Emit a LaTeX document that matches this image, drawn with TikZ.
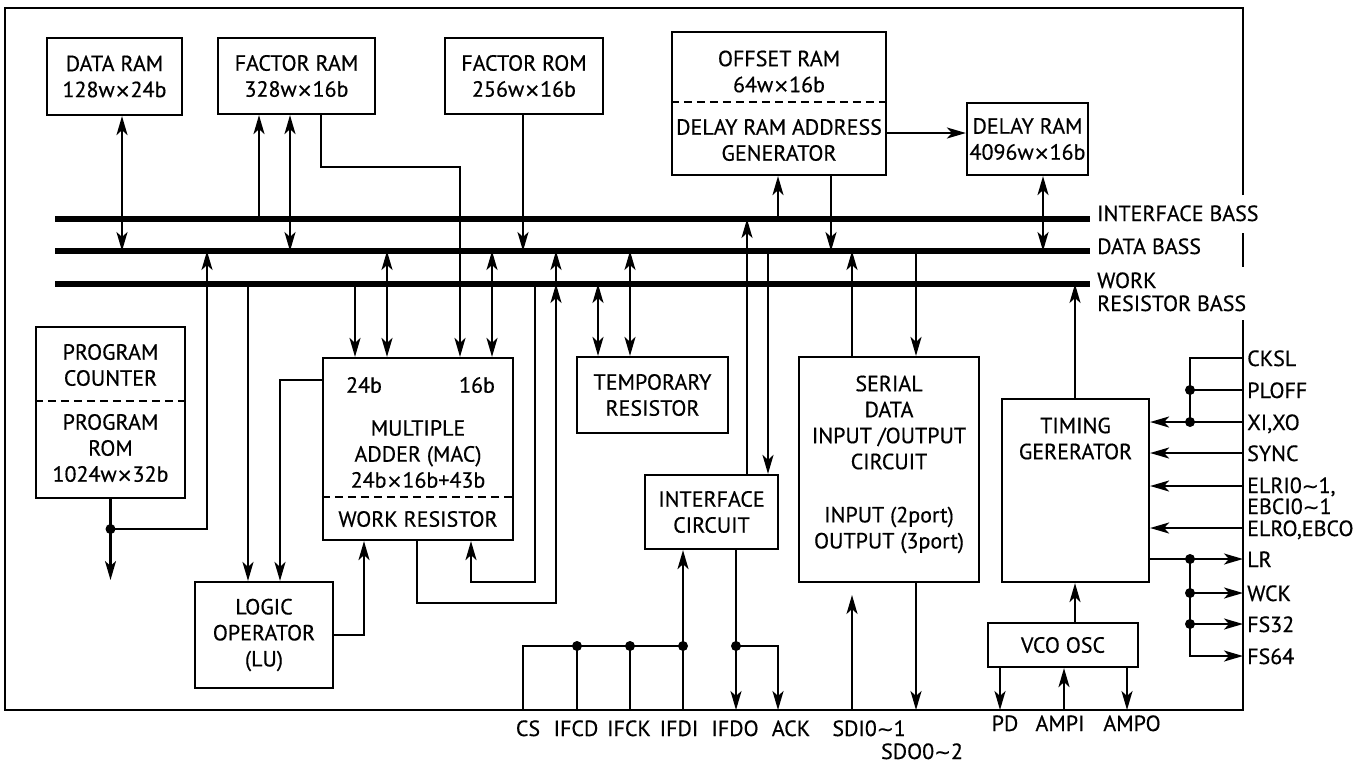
\documentclass[tikz,border=0pt]{standalone}
\usepackage{fontspec}
\setmainfont{PT Sans}[FakeBold=0.5]
\newfontfamily\dvfont{DejaVu Sans}[FakeBold=0.3]
\usetikzlibrary{arrows.meta}
\newcommand{\fs}{\fontsize{22}{26}\selectfont}
\newcommand{\wv}{{\dvfont\fontsize{20}{26}\selectfont ∼}}
\newcommand{\tm}{{\dvfont\fontsize{19}{26}\selectfont ×}}
\begin{document}
\begin{tikzpicture}[x=1pt,y=-1pt,
  box/.style={draw, line width=2.2pt, inner sep=0pt, align=center, font=\fs},
  lbl/.style={inner sep=0pt, align=center, font=\fs},
  pin/.style={inner sep=0pt, font=\fs, anchor=base west},
  pinb/.style={inner sep=0pt, font=\fs, anchor=base},
  ln/.style={line width=2.2pt},
  dsh/.style={line width=2.2pt, dash pattern=on 8pt off 5pt},
  bus/.style={line width=5.5pt},
  arr/.style={ln, -{Stealth[length=19pt,width=11pt,inset=5pt]}},
  darr/.style={ln, {Stealth[length=19pt,width=11pt,inset=5pt]}-{Stealth[length=19pt,width=11pt,inset=5pt]}},
  jdot/.style={circle, fill, inner sep=0pt, minimum size=10pt}]
\useasboundingbox (0,0) rectangle (1372,764);
\coordinate (ib) at (0,219);
\coordinate (db) at (0,251);
\coordinate (wb) at (0,284);
\coordinate (bb) at (0,710);
\coordinate (rb) at (1243,0);
% border
\draw[ln] (1243,195) -- (1243,8) -- (5,8) -- (5,710) -- (1243,710) -- (1243,320);
\draw[ln] (1243,233) -- (1243,267);
% buses
\draw[bus] (55,0 |- ib) -- (1090,0 |- ib);
\draw[bus] (55,0 |- db) -- (1090,0 |- db);
\draw[bus] (55,0 |- wb) -- (1090,0 |- wb);
\node[pin] (lib) at (1097,221) {INTERFACE BASS};
\node[pin] (ldb) at (1097,254) {DATA BASS};
\node[pin] (lwb1) at (1097,288) {WORK};
\node[pin] (lwb2) at (1097,311) {RESISTOR BASS};
% boxes
\node[box, minimum width=135pt, minimum height=77pt] (dram) at (114.5,76.5) {DATA RAM\\128w\tm24b};
\node[box, minimum width=157pt, minimum height=76pt] (fram) at (296.5,76) {FACTOR RAM\\328w\tm16b};
\node[box, minimum width=158pt, minimum height=76pt] (frm) at (524,76) {FACTOR ROM\\256w\tm16b};
\node[box, minimum width=214pt, minimum height=143pt] (off) at (779,103.5) {};
\draw[dsh] (off.west |- 0,102) -- (off.east |- 0,102);
\node[lbl] (offt) at (779,71.5) {OFFSET RAM\\64w\tm16b};
\node[lbl] (offb) at (779,140) {DELAY RAM ADDRESS\\GENERATOR};
\node[box, minimum width=121pt, minimum height=72pt] (dly) at (1027.5,139) {DELAY RAM\\4096w\tm16b};
\node[box, minimum width=149pt, minimum height=171pt] (prog) at (110.5,412.5) {};
\draw[dsh] (prog.west |- 0,401) -- (prog.east |- 0,401);
\node[lbl] (progt) at (110.5,365) {PROGRAM\\COUNTER};
\node[lbl] (progb) at (110.5,448) {PROGRAM\\ROM\\1024w\tm32b};
\node[box, minimum width=190pt, minimum height=182pt] (mac) at (418,449) {};
\draw[dsh] (mac.west |- 0,497) -- (mac.east |- 0,497);
\node[lbl] (m24) at (364,385) {24b};
\node[lbl] (m16) at (477,385) {16b};
\node[lbl] (macm) at (418,454) {MULTIPLE\\ADDER (MAC)\\24b\tm16b+43b};
\node[lbl] (macw) at (418,519) {WORK RESISTOR};
\node[box, minimum width=138pt, minimum height=106pt] (lu) at (264,635) {LOGIC\\OPERATOR\\(LU)};
\node[box, minimum width=151pt, minimum height=76pt] (tmp) at (652.5,395) {TEMPORARY\\RESISTOR};
\node[box, minimum width=133pt, minimum height=74pt] (ifc) at (711.5,512) {INTERFACE\\CIRCUIT};
\node[box, minimum width=180pt, minimum height=225pt] (ser) at (889,469.5) {};
\node[lbl] (sert) at (889,422.5) {SERIAL\\DATA\\INPUT /OUTPUT\\CIRCUIT};
\node[lbl] (serb) at (889,530) {INPUT (2port)\\OUTPUT (3port)};
\node[box, minimum width=147pt, minimum height=183pt] (tg) at (1075.5,490.5) {};
\node[lbl] (tgt) at (1075.5,438.5) {TIMING\\GERERATOR};
\node[box, minimum width=150pt, minimum height=44pt] (vco) at (1063,645) {VCO OSC};
% top connectors
\draw[darr] (122,0 |- dram.south) -- (122,0 |- db);
\draw[arr] (259,0 |- ib) -- (259,0 |- fram.south);
\draw[darr] (290,0 |- fram.south) -- (290,0 |- db);
\draw[arr] (321,0 |- fram.south) -- (321,167) -- (460,167) -- (460,0 |- mac.north);
\draw[arr] (523,0 |- frm.south) -- (523,0 |- db);
% program
\draw[arr] (prog.south) -- (110.5,580);
\node[jdot] (j1) at (110.5,529) {};
\draw[arr] (j1.center) -- (207,529) -- (207,0 |- db);
% logic operator
\draw[arr] (248,0 |- wb) -- (248,0 |- lu.north);
\draw[arr] (mac.west |- 0,380) -- (280,380) -- (280,0 |- lu.north);
\draw[arr] (lu.east) -- (364,0 |- lu.east) -- (364,0 |- mac.south);
% MAC
\draw[arr] (355,0 |- wb) -- (355,0 |- mac.north);
\draw[darr] (387,0 |- db) -- (387,0 |- mac.north);
\draw[darr] (492,0 |- db) -- (492,0 |- mac.north);
\draw[arr] (417,0 |- mac.south) -- (417,603) -- (556,603) -- (556,0 |- db);
\draw[arr] (556,330) -- (556,0 |- wb);
\draw[arr] (535,0 |- wb) -- (535,582) -- (471,582) -- (471,0 |- mac.south);
% temporary
\draw[darr] (598,0 |- wb) -- (598,0 |- tmp.north);
\draw[darr] (630,0 |- db) -- (630,0 |- tmp.north);
% interface circuit
\draw[arr] (747,0 |- ifc.north) -- (747,0 |- ib);
\draw[arr] (768,0 |- db) -- (768,0 |- ifc.north);
% offset / delay
\draw[arr] (778,0 |- ib) -- (778,0 |- off.south);
\draw[arr] (831,0 |- off.south) -- (831,0 |- db);
\draw[arr] (off.east |- 0,133) -- (dly.west |- 0,133);
\draw[darr] (1043,0 |- dly.south) -- (1043,0 |- db);
% serial
\draw[arr] (852,0 |- ser.north) -- (852,0 |- db);
\draw[arr] (916,0 |- db) -- (916,0 |- ser.north);
\draw[arr] (916,0 |- ser.south) -- (916,0 |- bb);
\draw[arr] (852,0 |- bb) -- (852,595);
% timing / vco
\draw[arr] (1075,0 |- tg.north) -- (1075,0 |- wb);
\draw[arr] (1075,0 |- vco.north) -- (1075,0 |- tg.south);
\draw[arr] (1000,0 |- vco.south) -- (1000,0 |- bb);
\draw[arr] (1064,0 |- bb) -- (1064,0 |- vco.south);
\draw[arr] (1127,0 |- vco.south) -- (1127,0 |- bb);
% right side pins
\draw[ln] (rb |- 0,358) -- (1190,358) -- (1190,422);
\draw[ln] (rb |- 0,390) -- (1190,390);
\node[jdot] (j2) at (1190,390) {};
\node[jdot] (j3) at (1190,422) {};
\draw[arr] (rb |- 0,422) -- (tg.east |- 0,422);
\draw[arr] (rb |- 0,453) -- (tg.east |- 0,453);
\draw[arr] (rb |- 0,486) -- (tg.east |- 0,486);
\draw[arr] (rb |- 0,528) -- (tg.east |- 0,528);
\draw[arr] (tg.east |- 0,559) -- (rb |- 0,559);
\draw[arr] (1190,559) -- (1190,656) -- (rb |- 0,656);
\draw[arr] (1190,593) -- (rb |- 0,593);
\draw[arr] (1190,624) -- (rb |- 0,624);
\node[jdot] (j4) at (1190,559) {};
\node[jdot] (j5) at (1190,593) {};
\node[jdot] (j6) at (1190,624) {};
\node[pin] (pckl) at (1247,366) {CKSL};
\node[pin] (pplf) at (1247,398) {PLOFF};
\node[pin] (pxi) at (1247,430) {XI,XO};
\node[pin] (psyn) at (1247,461) {SYNC};
\node[pin] (pelri) at (1247,493) {ELRI0\wv1,};
\node[pin] (pebci) at (1247,514) {EBCI0\wv1};
\node[pin] (pelro) at (1247,536) {ELRO,EBCO};
\node[pin] (plr) at (1247,567) {LR};
\node[pin] (pwck) at (1247,601) {WCK};
\node[pin] (pfs32) at (1247,632) {FS32};
\node[pin] (pfs64) at (1247,664) {FS64};
% bottom interface pins
\draw[ln] (523,0 |- bb) -- (523,646) -- (683,646);
\draw[ln] (577,646) -- (577,0 |- bb);
\draw[ln] (630,646) -- (630,0 |- bb);
\draw[arr] (683,0 |- bb) -- (683,0 |- ifc.south);
\draw[arr] (736,0 |- ifc.south) -- (736,0 |- bb);
\draw[arr] (736,646) -- (778,646) -- (778,0 |- bb);
\node[jdot] (j7) at (577,646) {};
\node[jdot] (j8) at (630,646) {};
\node[jdot] (j9) at (683,646) {};
\node[jdot] (j10) at (736,646) {};
\node[pinb] (bcs) at (528,736) {CS};
\node[pinb] (bcd) at (576,736) {IFCD};
\node[pinb] (bck) at (629,736) {IFCK};
\node[pinb] (bdi) at (679,736) {IFDI};
\node[pinb] (bdo) at (735,736) {IFDO};
\node[pinb] (back) at (791,736) {ACK};
\node[pinb] (bsdi) at (869,736) {SDI0\wv1};
\node[pinb] (bsdo) at (922,759) {SDO0\wv2};
\node[pinb] (bpd) at (1005,731) {PD};
\node[pinb] (bampi) at (1060,731) {AMPI};
\node[pinb] (bampo) at (1132,731) {AMPO};
\end{tikzpicture}
\end{document}
